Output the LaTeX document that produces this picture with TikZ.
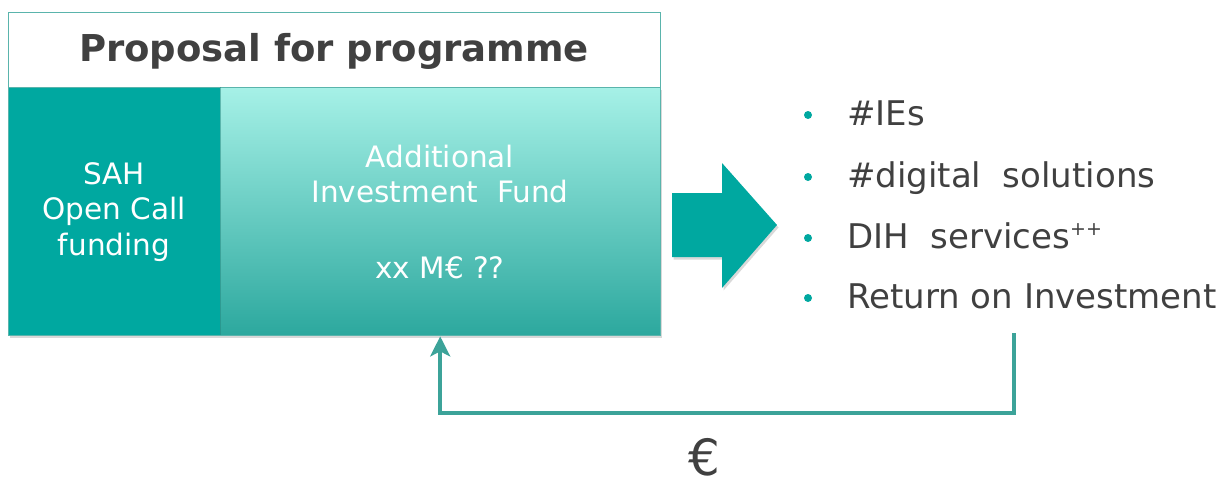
\documentclass[tikz,border=0pt]{standalone}
\usepackage{fontspec}
\setmainfont{DejaVu Sans}
\usetikzlibrary{shadows,arrows.meta,calc}
\definecolor{tealA}{RGB}{0,168,160}
\definecolor{aquatop}{RGB}{166,241,231}
\definecolor{aquabot}{RGB}{44,168,158}
\definecolor{fbline}{RGB}{60,163,153}
\definecolor{txtgray}{RGB}{64,64,64}
\definecolor{framecol}{RGB}{90,180,172}
\begin{document}
\begin{tikzpicture}[x=1pt,y=-1pt,
  titlebox/.style={draw=framecol, line width=1pt, fill=white, inner sep=0pt, anchor=north west},
  titletext/.style={font=\bfseries\fontsize{37}{44}\selectfont, text=txtgray, inner sep=0pt},
  sahbox/.style={fill=tealA, inner sep=0pt, anchor=north west,
    drop shadow={opacity=0.3, shadow xshift=1.5pt, shadow yshift=-2.5pt}},
  fundbox/.style={top color=aquatop, bottom color=aquabot, inner sep=0pt, anchor=north west,
    drop shadow={opacity=0.3, shadow xshift=1.5pt, shadow yshift=-2.5pt}},
  boxtext/.style={font=\fontsize{29.5}{35.5}\selectfont, text=white, align=center, inner sep=0pt},
  bullettext/.style={font=\fontsize{34}{40}\selectfont, text=txtgray, inner sep=0pt, anchor=base west},
  dot/.style={circle, fill=tealA, inner sep=0pt, minimum size=8pt},
  fb/.style={draw=fbline, line width=3.5pt, -{Stealth[length=20pt,width=20pt,inset=5pt]}},
]
\useasboundingbox (0,0) rectangle (1227,487);

% title
\node[titlebox, minimum width=652pt, minimum height=75pt] (title) at (8,12) {};
\node[titletext, anchor=base] (titletxt) at (334,62) {Proposal for programme};

% boxes
\node[sahbox, minimum width=212pt, minimum height=248pt] (sah) at (8,87) {};
\node[fundbox, minimum width=440pt, minimum height=248pt] (fund) at (220,87) {};
\draw[draw=framecol, line width=0.6pt] (sah.north west) rectangle (fund.south east);
\draw[draw=aquabot!80!black, line width=0.6pt, opacity=0.5] (fund.north west) -- (fund.south west);

\node[boxtext] (sahtxt) at (114,212) {SAH\\Open Call\\funding};
\node[boxtext] (fundtxt) at (440,212) {Additional\\Investment\ \ Fund\\[40pt]xx\ M€ ??};

% big arrow
\fill[tealA, drop shadow={opacity=0.3, shadow xshift=1.5pt, shadow yshift=-2.5pt}]
  (672,193) -- (722,193) -- (722,163) -- (777,225) -- (722,288) -- (722,257) -- (672,257) -- cycle;

% bullets
\node[dot] (d1) at (808,115) {};
\node[dot] (d2) at (808,177) {};
\node[dot] (d3) at (808,238) {};
\node[dot] (d4) at (808,298) {};
\node[bullettext] (b1) at (847,125) {\#IEs};
\node[bullettext] (b2) at (847,187) {\#digital\ \ solutions};
\node[bullettext] (b3) at (847,248) {DIH\ \ services\raisebox{13pt}{\fontsize{19}{19}\selectfont ++}};
\node[bullettext] (b4) at (847,308) {Return\ on\ Investment};

% feedback arrow
\coordinate (fbstart) at (1014,333);
\coordinate (fbcorner) at (1014,413);
\draw[fb] (fbstart) -- (fbcorner) -| ([yshift=-1pt]fund.south);

\node[font=\fontsize{50}{56}\selectfont, text=txtgray, inner sep=0pt, anchor=base] (euro) at (704,475) {€};
\end{tikzpicture}
\end{document}
